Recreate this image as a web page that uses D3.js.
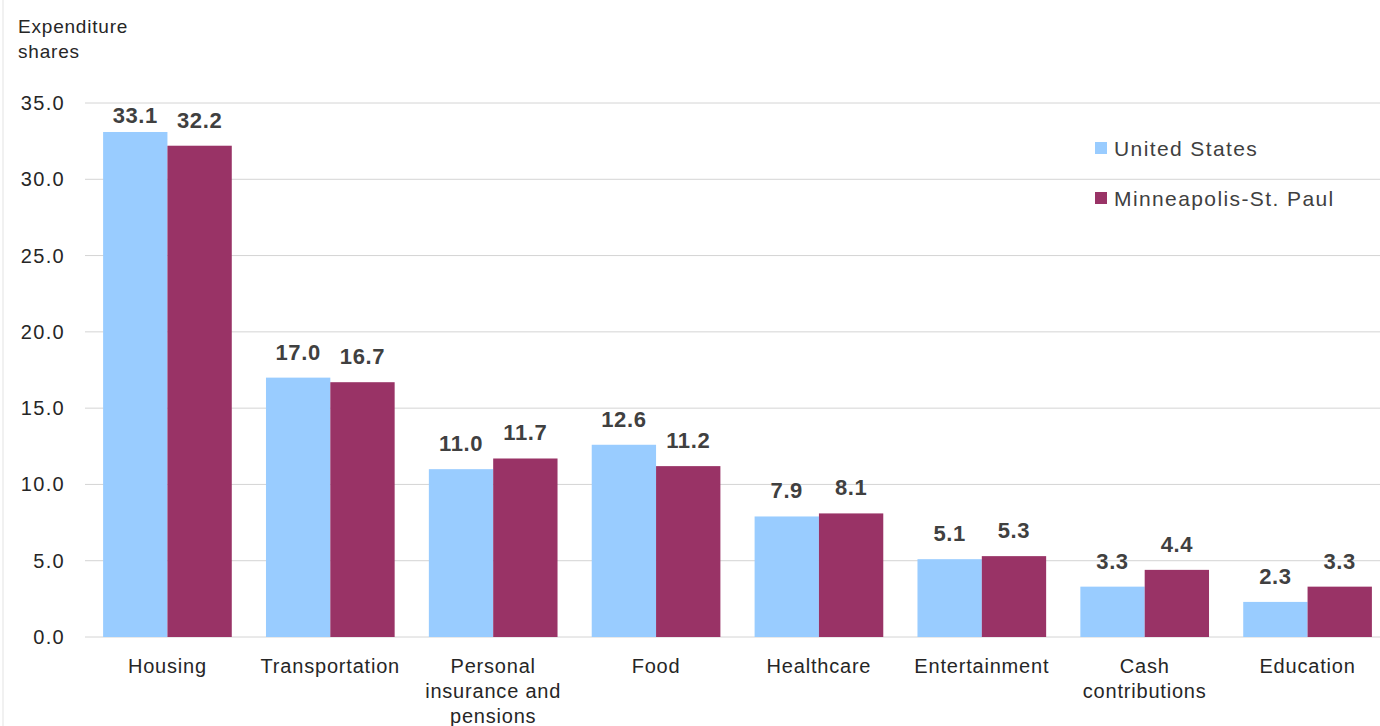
<!DOCTYPE html>
<html>
<head>
<meta charset="utf-8">
<script src="https://cdn.jsdelivr.net/npm/d3@7"></script>
<style>
  body { margin: 0; background: #fff; }
  text { font-family: "Liberation Sans", Arial, sans-serif; fill: #262626; }
</style>
</head>
<body>
<script>
    // chart data
    const categories = ["Housing", "Transportation", "Personal insurance and pensions", "Food",
                        "Healthcare", "Entertainment", "Cash contributions", "Education"];
    const catLines = [["Housing"], ["Transportation"], ["Personal", "insurance and", "pensions"], ["Food"],
                      ["Healthcare"], ["Entertainment"], ["Cash", "contributions"], ["Education"]];
    const seriesNames = ["United States", "Minneapolis-St. Paul"];
    const usValues = [33.1, 17.0, 11.0, 12.6, 7.9, 5.1, 3.3, 2.3];
    const mspValues = [32.2, 16.7, 11.7, 11.2, 8.1, 5.3, 4.4, 3.3];
    const yTicks = [0, 5, 10, 15, 20, 25, 30, 35];
    const colors = ["#99ccff", "#993366"];

    const svg = d3.select("body").append("svg")
      .attr("width", 1380)
      .attr("height", 726)

    const yScale = d3.scaleLinear()
      .domain([0, 35])
      .range([637, 103])

    const xScale = d3.scaleBand()
      .domain(categories)
      .range([86, 1389])
      .paddingInner(0.21)
      .paddingOuter(0.105)

    const subScale = d3.scaleBand()
      .domain(seriesNames)
      .range([0, xScale.bandwidth()])

    // left border
    svg.append("line")
      .attr("x1", 3).attr("x2", 3).attr("y1", 0).attr("y2", 726)
      .style("stroke", "#e3e3e3")

    // gridlines + y ticks
    svg.selectAll(".grid")
      .data(yTicks)
      .enter()
      .append("line")
      .attr("x1", 85).attr("x2", 1380)
      .attr("y1", d => yScale(d)).attr("y2", d => yScale(d))
      .style("stroke", "#d4d4d4")

    svg.selectAll(".ytick")
      .data(yTicks)
      .enter()
      .append("text")
      .attr("x", 65)
      .attr("y", d => yScale(d) + 7)
      .attr("text-anchor", "end")
      .style("font-size", "20px")
      .style("letter-spacing", "1.3px")
      .text(d => d.toFixed(1))

    // axis title
    svg.append("text")
      .attr("x", 18).attr("y", 33)
      .style("font-size", "19px").style("letter-spacing", "0.8px")
      .text("Expenditure")
    svg.append("text")
      .attr("x", 18).attr("y", 58)
      .style("font-size", "19px").style("letter-spacing", "0.8px")
      .text("shares")

    // bars
    const rows = categories.map((c, i) => ({cat: c, vals: [usValues[i], mspValues[i]]}))

    const groups = svg.selectAll(".grp")
      .data(rows)
      .enter()
      .append("g")
      .attr("transform", d => "translate(" + xScale(d.cat) + ",0)")

    groups.selectAll("rect")
      .data(d => d.vals.map((v, j) => ({name: seriesNames[j], v: v, j: j})))
      .enter()
      .append("rect")
      .attr("x", d => subScale(d.name))
      .attr("width", subScale.bandwidth())
      .attr("y", d => yScale(d.v))
      .attr("height", d => yScale(0) - yScale(d.v))
      .style("fill", d => colors[d.j])

    groups.selectAll(".lbl")
      .data(d => d.vals.map((v, j) => ({name: seriesNames[j], v: v})))
      .enter()
      .append("text")
      .attr("x", d => subScale(d.name) + subScale.bandwidth() / 2)
      .attr("y", d => Math.max(yScale(d.v) - 18, yScale(35) + 20))
      .attr("text-anchor", "middle")
      .style("font-size", "22px")
      .style("font-weight", "bold")
      .style("letter-spacing", "0.6px")
      .style("fill", "#404040")
      .text(d => d.v.toFixed(1))

    // category labels
    svg.selectAll(".xlab")
      .data(categories)
      .enter()
      .append("text")
      .attr("text-anchor", "middle")
      .attr("y", 673)
      .style("font-size", "20px")
      .style("letter-spacing", "0.8px")
      .each(function(d, i) {
        const t = d3.select(this)
        catLines[i].forEach((line, k) => {
          t.append("tspan")
            .attr("x", xScale(d) + xScale.bandwidth() / 2)
            .attr("dy", k === 0 ? 0 : 25)
            .text(line)
        })
      })

    // legend
    const legend = svg.selectAll(".leg")
      .data(seriesNames)
      .enter()
      .append("g")
      .attr("transform", (d, i) => "translate(1095," + (142 + i * 50) + ")")

    legend.append("rect")
      .attr("width", 12).attr("height", 12)
      .style("fill", (d, i) => colors[i])

    legend.append("text")
      .attr("x", 19).attr("y", 14)
      .style("font-size", "21px")
      .style("letter-spacing", "1.4px")
      .style("fill", "#404040")
      .text(d => d)
</script>
</body>
</html>
